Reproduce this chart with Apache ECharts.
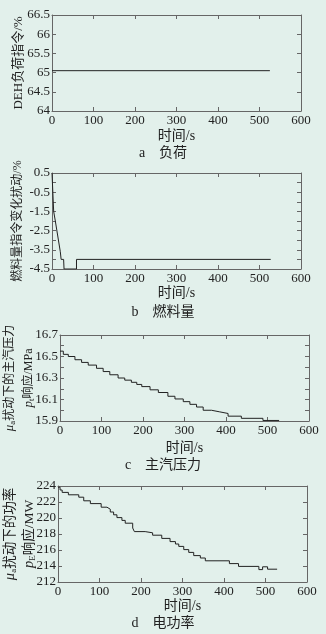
<!DOCTYPE html>
<html>
<head>
<meta charset="utf-8">
<script src="https://cdn.jsdelivr.net/npm/echarts@6/dist/echarts.min.js"></script>
<style>
  html, body { margin: 0; padding: 0; background: #e2f0eb; }
  #chart { width: 326px; height: 634px; }
</style>
</head>
<body>
<div id="chart"></div>
<script>
// a 负荷
const loadTime = [0, 525]
const loadValue = [65.05, 65.05]

// b 燃料量（含斜线段，按折点给出）
const fuelTime = [0, 4, 8, 8, 12, 20, 22, 28, 29, 59, 59, 527]
const fuelValue = [0.5, -1.5, -1.5, -2, -2, -3.6, -4, -4, -4.5, -4.5, -4, -4]

// c 主汽压力（阶梯，值保持到下一个时刻）
const pressureTime = [0, 8, 20, 36, 52, 68, 88, 104, 120, 140, 156, 172, 185, 197, 217, 237, 260, 277, 297, 313, 329, 345, 365, 385, 405, 437, 489, 528]
const pressureValue = [16.55, 16.52, 16.5, 16.47, 16.445, 16.42, 16.39, 16.36, 16.33, 16.3, 16.28, 16.26, 16.24, 16.22, 16.19, 16.165, 16.13, 16.105, 16.08, 16.055, 16.03, 16.0, 15.985, 15.97, 15.945, 15.925, 15.905, 15.905]

// d 电功率（阶梯）
const powerTime = [0, 5, 10, 25, 50, 62, 78, 104, 118, 126, 134, 142, 154, 162, 180, 184, 210, 228, 250, 270, 283, 291, 303, 315, 327, 343, 355, 413, 435, 484, 493, 505, 528]
const powerValue = [223.85, 223.5, 223.2, 222.9, 222.6, 222.15, 221.8, 221.35, 221.1, 220.75, 220.4, 220.05, 219.7, 219.35, 218.75, 218.3, 218.15, 217.85, 217.45, 217.05, 216.75, 216.45, 216.05, 215.7, 215.3, 215.0, 214.65, 214.3, 213.95, 213.55, 213.9, 213.6, 213.6]

const captions = ['a\u3000负荷', 'b\u3000燃料量', 'c\u3000主汽压力', 'd\u3000电功率']
const xName = '时间/s'

const font = 'Liberation Serif, Noto Sans CJK SC, serif'
const textColor = '#222'
const frameColor = '#666'
const lineColor = '#222'

const zip = (xs, ys) => xs.map((x, i) => [x, ys[i]])

const grids = [
  { left: 52, top: 15, width: 249, height: 96 },
  { left: 52, top: 173, width: 249, height: 96 },
  { left: 60, top: 335, width: 249, height: 86 },
  { left: 58, top: 486, width: 249, height: 96 }
]

const panels = [
  {
    yMin: 64, yMax: 66.5, yStep: 0.5,
    fmt: v => String(Math.round(v * 10) / 10),
    yName: 'DEH负荷指令/%', nameSize: 13, yGap: 24, xGap: 18,
    data: zip(loadTime, loadValue), step: false
  },
  {
    yMin: -4.5, yMax: 0.5, yStep: 0.5,
    fmt: v => (Math.abs(Math.round(v * 2)) % 2 === 1 ? (Math.round(v * 10) / 10).toFixed(1) : ''),
    yName: '燃料量指令变化扰动/%', nameSize: 12, yGap: 25, xGap: 17,
    data: zip(fuelTime, fuelValue), step: false
  },
  {
    yMin: 15.9, yMax: 16.7, yStep: 0.1,
    fmt: v => (Math.round((v - 15.9) * 10) % 2 === 0 ? v.toFixed(1) : ''),
    yName: '{i|μ}{s|a}扰动下的主汽压力\n{i|p}{s|t}响应/MPa', nameSize: 12, yGap: 22, xGap: 20,
    data: zip(pressureTime, pressureValue), step: 'end'
  },
  {
    yMin: 212, yMax: 224, yStep: 2,
    fmt: v => String(v),
    yName: '{i|μ}{s|a}扰动下的功率\n{i|p}{s|E}响应/MW', nameSize: 13.5, yGap: 19, xGap: 17,
    data: zip(powerTime, powerValue), step: 'end'
  }
]

const axisLine = { show: true, onZero: false, lineStyle: { color: frameColor, width: 1 } }
const axisTick = { show: true, inside: true, length: 4, lineStyle: { color: frameColor } }
const labelStyle = { color: textColor, fontFamily: font, fontSize: 13 }

const xAxis = []
const yAxis = []
const series = []

panels.forEach((p, i) => {
  ;['bottom', 'top'].forEach(pos => {
    xAxis.push({
      type: 'value', gridIndex: i, position: pos,
      min: 0, max: 600, interval: 100,
      axisLine, axisTick,
      axisLabel: { show: pos === 'bottom', margin: 3, ...labelStyle },
      splitLine: { show: false },
      name: pos === 'bottom' ? xName : '',
      nameLocation: 'middle', nameGap: p.xGap, nameMoveOverlap: false,
      nameTextStyle: { color: textColor, fontFamily: font, fontSize: 14 }
    })
  })
  ;['left', 'right'].forEach(pos => {
    yAxis.push({
      type: 'value', gridIndex: i, position: pos,
      min: p.yMin, max: p.yMax, interval: p.yStep,
      axisLine, axisTick,
      axisLabel: { show: pos === 'left', margin: 2, formatter: p.fmt, ...labelStyle },
      splitLine: { show: false },
      name: pos === 'left' ? p.yName : '',
      nameLocation: 'middle', nameRotate: 90, nameGap: p.yGap, nameMoveOverlap: false,
      nameTextStyle: {
        color: textColor, fontFamily: font, fontSize: p.nameSize, lineHeight: 19,
        rich: {
          i: { fontFamily: font, fontStyle: 'italic', fontSize: p.nameSize + 1, lineHeight: 19, color: textColor },
          s: { fontFamily: font, fontSize: 9, lineHeight: 19, color: textColor, padding: [6, 0, 0, 0] }
        }
      }
    })
  })
  series.push({
    type: 'line',
    xAxisIndex: i * 2,
    yAxisIndex: i * 2,
    data: p.data,
    step: p.step,
    showSymbol: false,
    symbol: 'none',
    animation: false,
    lineStyle: { color: lineColor, width: 1 }
  })
})

const captionTops = [146, 305, 458, 616]
const title = captions.map((text, i) => ({
  text,
  left: 'center',
  top: captionTops[i],
  padding: 0,
  textStyle: { color: textColor, fontFamily: font, fontSize: 14, fontWeight: 'normal' }
}))

const chart = echarts.init(document.getElementById('chart'), null, { renderer: 'canvas' })
chart.setOption({
  backgroundColor: '#e2f0eb',
  animation: false,
  title,
  grid: grids.map(g => ({ ...g, containLabel: false, outerBoundsMode: 'none' })),
  xAxis,
  yAxis,
  series
})
</script>
</body>
</html>
